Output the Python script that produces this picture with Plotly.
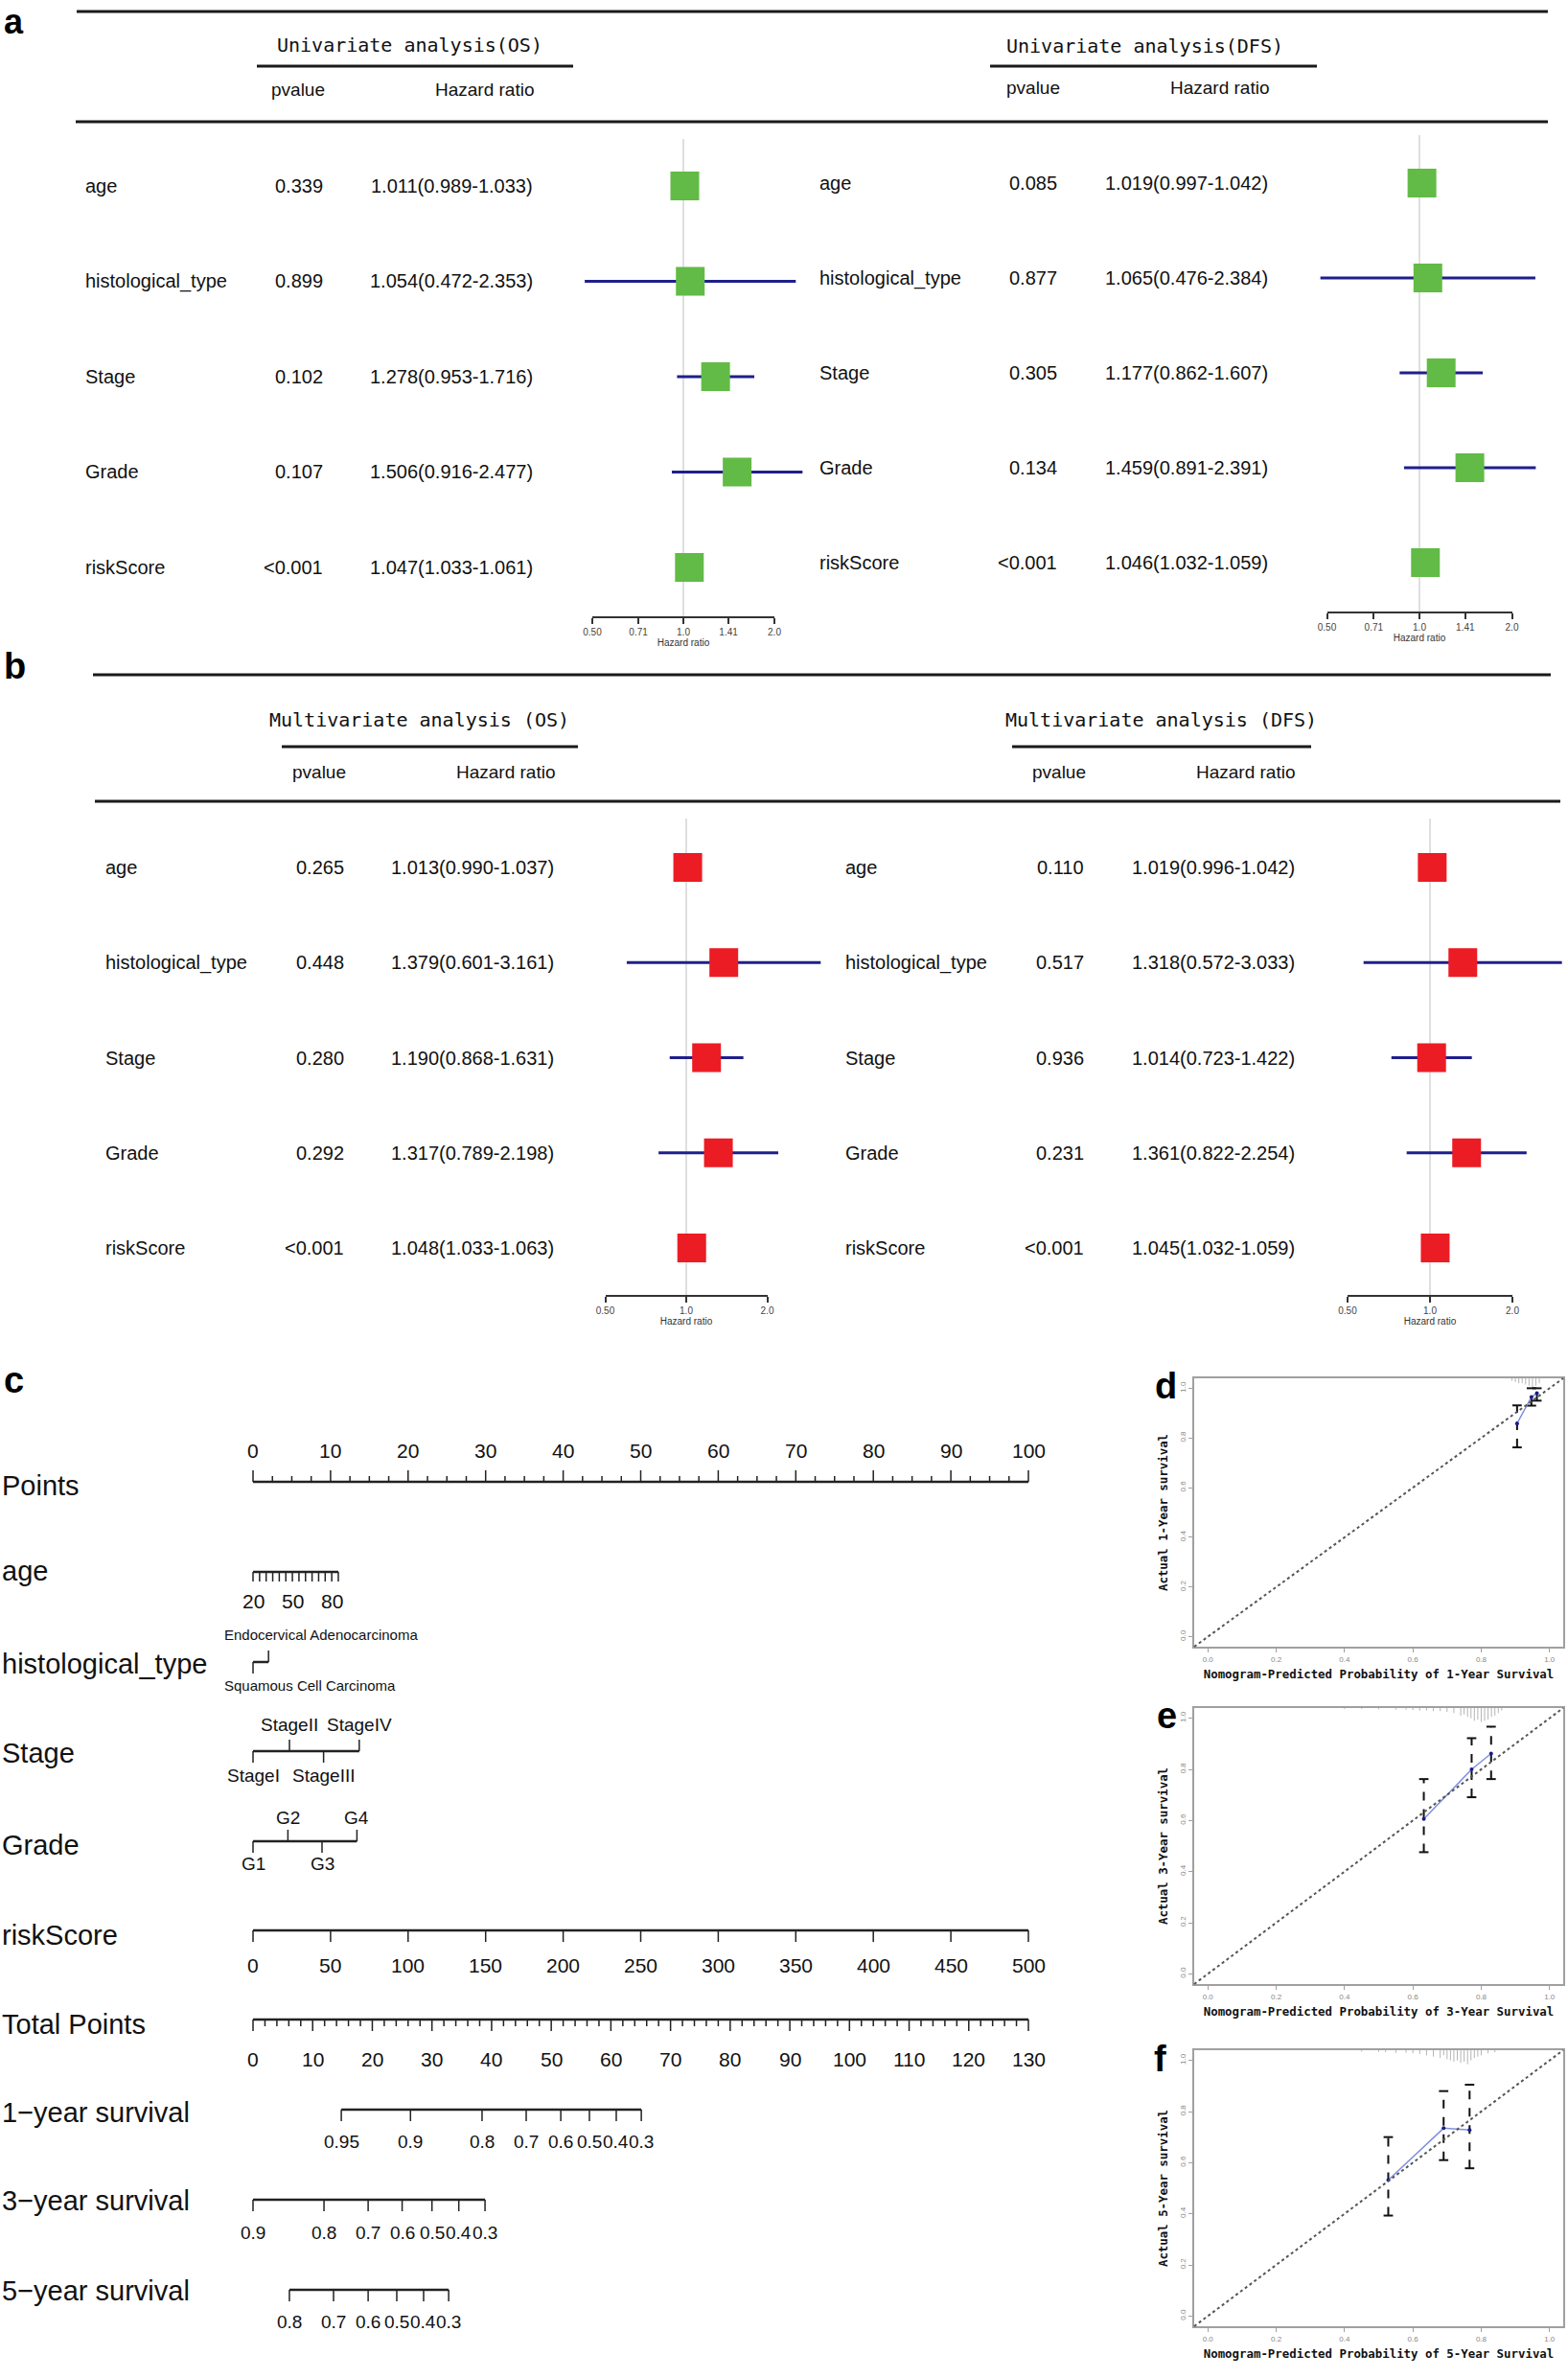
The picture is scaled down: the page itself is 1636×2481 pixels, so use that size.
import numpy as np
import plotly.graph_objects as go

W, H = 1636, 2481
SANS = "Liberation Sans, Arial, sans-serif"
MONO = "DejaVu Sans Mono, Liberation Mono, monospace"

# ---------------- data: forest plots ----------------
variables = ["age", "histological_type", "Stage", "Grade", "riskScore"]

uni_os_p = ["0.339", "0.899", "0.102", "0.107", "<0.001"]
uni_os_hr = [1.011, 1.054, 1.278, 1.506, 1.047]
uni_os_lo = [0.989, 0.472, 0.953, 0.916, 1.033]
uni_os_hi = [1.033, 2.353, 1.716, 2.477, 1.061]

uni_dfs_p = ["0.085", "0.877", "0.305", "0.134", "<0.001"]
uni_dfs_hr = [1.019, 1.065, 1.177, 1.459, 1.046]
uni_dfs_lo = [0.997, 0.476, 0.862, 0.891, 1.032]
uni_dfs_hi = [1.042, 2.384, 1.607, 2.391, 1.059]

multi_os_p = ["0.265", "0.448", "0.280", "0.292", "<0.001"]
multi_os_hr = [1.013, 1.379, 1.190, 1.317, 1.048]
multi_os_lo = [0.990, 0.601, 0.868, 0.789, 1.033]
multi_os_hi = [1.037, 3.161, 1.631, 2.198, 1.063]

multi_dfs_p = ["0.110", "0.517", "0.936", "0.231", "<0.001"]
multi_dfs_hr = [1.019, 1.318, 1.014, 1.361, 1.045]
multi_dfs_lo = [0.996, 0.572, 0.723, 0.822, 1.032]
multi_dfs_hi = [1.042, 3.033, 1.422, 2.254, 1.059]

uni_ticks = [0.50, 0.71, 1.0, 1.41, 2.0]
uni_tick_text = ["0.50", "0.71", "1.0", "1.41", "2.0"]
multi_ticks = [0.50, 1.0, 2.0]
multi_tick_text = ["0.50", "1.0", "2.0"]

# ---------------- data: nomogram ----------------
points_ticks = [0, 10, 20, 30, 40, 50, 60, 70, 80, 90, 100]
age_range = [20, 85]
age_range_points = [0.0, 11.0]
age_tick_vals = [20, 25, 30, 35, 40, 45, 50, 55, 60, 65, 70, 75, 80, 85]
age_label_vals = [20, 50, 80]
hist_levels = ["Squamous Cell Carcinoma", "Endocervical Adenocarcinoma"]
hist_points = [0.0, 2.0]
stage_levels = ["StageI", "StageII", "StageIII", "StageIV"]
stage_points = [0.0, 4.7, 9.1, 13.7]
grade_levels = ["G1", "G2", "G3", "G4"]
grade_points = [0.0, 4.5, 8.9, 13.4]
risk_ticks = [0, 50, 100, 150, 200, 250, 300, 350, 400, 450, 500]
risk_max = 500
total_ticks = [0, 10, 20, 30, 40, 50, 60, 70, 80, 90, 100, 110, 120, 130]
total_max = 130
surv1_labels = ["0.95", "0.9", "0.8", "0.7", "0.6", "0.5", "0.4", "0.3"]
surv1_total = [14.8, 26.4, 38.4, 45.8, 51.6, 56.4, 60.9, 65.1]
surv3_labels = ["0.9", "0.8", "0.7", "0.6", "0.5", "0.4", "0.3"]
surv3_total = [0.0, 11.9, 19.3, 25.0, 30.0, 34.5, 38.9]
surv5_labels = ["0.8", "0.7", "0.6", "0.5", "0.4", "0.3"]
surv5_total = [6.1, 13.5, 19.3, 24.1, 28.6, 32.8]

# ---------------- data: calibration ----------------
cal1_pred = [0.905, 0.947, 0.963]
cal1_obs = [0.858, 0.965, 0.980]
cal1_lo = [0.762, 0.930, 0.950]
cal1_hi = [0.931, 1.000, 1.000]
rug1_x = [0.89, 0.90, 0.91, 0.92, 0.93, 0.94, 0.95, 0.96, 0.97]
rug1_h = [0.010, 0.015, 0.020, 0.020, 0.025, 0.030, 0.035, 0.030, 0.020]

cal3_pred = [0.632, 0.772, 0.829]
cal3_obs = [0.606, 0.800, 0.862]
cal3_lo = [0.476, 0.691, 0.762]
cal3_hi = [0.762, 0.922, 0.967]
rug3_x = [0.40, 0.45, 0.50, 0.55, 0.58, 0.60, 0.62, 0.64, 0.66, 0.68, 0.70, 0.72,
          0.74, 0.75, 0.76, 0.77, 0.78, 0.79, 0.80, 0.81, 0.82, 0.83, 0.84, 0.85, 0.86]
rug3_h = [0.004, 0.004, 0.005, 0.006, 0.006, 0.008, 0.010, 0.010, 0.012, 0.012, 0.015, 0.020,
          0.030, 0.025, 0.035, 0.040, 0.050, 0.045, 0.055, 0.050, 0.045, 0.035, 0.030, 0.020, 0.010]

cal5_pred = [0.528, 0.690, 0.766]
cal5_obs = [0.532, 0.735, 0.728]
cal5_lo = [0.393, 0.610, 0.578]
cal5_hi = [0.700, 0.880, 0.905]
rug5_x = [0.45, 0.50, 0.52, 0.55, 0.58, 0.60, 0.62, 0.64, 0.66, 0.68, 0.69, 0.70,
          0.71, 0.72, 0.73, 0.74, 0.75, 0.76, 0.77, 0.78, 0.79, 0.80, 0.82, 0.84]
rug5_h = [0.005, 0.006, 0.008, 0.010, 0.010, 0.012, 0.015, 0.020, 0.025, 0.030, 0.020, 0.035,
          0.040, 0.045, 0.040, 0.050, 0.045, 0.055, 0.040, 0.030, 0.025, 0.020, 0.012, 0.008]
cal_ticks = [0.0, 0.2, 0.4, 0.6, 0.8, 1.0]
cal_tick_text = ["0.0", "0.2", "0.4", "0.6", "0.8", "1.0"]

# ---------------- helpers ----------------
fig = go.Figure()
axes = {}
annotations = []
shapes = []
_n = [0]


def fx(p):
    return p / W


def fy(p):
    return 1 - p / H


HIDDEN = dict(visible=False, showgrid=False, zeroline=False, fixedrange=True, automargin=False)


def new_axes(xpx, ypx, xkw=None, ykw=None):
    _n[0] += 1
    n = _n[0]
    sfx = "" if n == 1 else str(n)
    xr, yr = "x" + sfx, "y" + sfx
    xa = dict(HIDDEN)
    xa.update(domain=[max(0, fx(xpx[0])), min(1, fx(xpx[1]))], anchor=yr)
    ya = dict(HIDDEN)
    ya.update(domain=[max(0, fy(ypx[1])), min(1, fy(ypx[0]))], anchor=xr)
    if xkw:
        xa.update(xkw)
    if ykw:
        ya.update(ykw)
    axes["xaxis" + sfx] = xa
    axes["yaxis" + sfx] = ya
    return xr, yr


def text(x, y, s, xref="paper", yref="paper", size=19, family=SANS, xanchor="center",
         yanchor="middle", color="#111", **kw):
    annotations.append(dict(x=x, y=y, xref=xref, yref=yref, text=s, showarrow=False,
                            font=dict(size=size, family=family, color=color),
                            xanchor=xanchor, yanchor=yanchor, **kw))


def rule(x0, x1, y, width=3, color="#1a1a1a"):
    shapes.append(dict(type="line", xref="paper", yref="paper", x0=fx(x0), x1=fx(x1),
                       y0=fy(y), y1=fy(y), line=dict(color=color, width=width)))


def forest(cfg, pvals, hr, lo, hi, ticks, tick_text, color):
    c, k = cfg["c"], cfg["k"]
    r0, sp = cfg["r0"], cfg["sp"]
    vtop, ax_y = cfg["vtop"], cfg["axis_y"]
    L, R = c - 1.4 * k, min(c + 1.8 * k, W)
    lg2 = np.log10(2)
    xr, yr = new_axes((L, R), (vtop, ax_y),
                      dict(type="log", range=[(L - c) / k * lg2, (R - c) / k * lg2]),
                      dict(range=[(ax_y - r0) / sp, (vtop - r0) / sp]))
    rows = list(range(len(hr)))
    shapes.append(dict(type="line", xref=xr, yref=yr + " domain", x0=1, x1=1, y0=0, y1=1,
                       line=dict(color="#d4d4d4", width=1.5), layer="below"))
    xs, ys = [], []
    for i in rows:
        xs += [lo[i], hi[i], None]
        ys += [i, i, None]
    fig.add_trace(go.Scatter(x=xs, y=ys, xaxis=xr, yaxis=yr, mode="lines",
                             line=dict(color="#1f1f8c", width=3), hoverinfo="skip",
                             showlegend=False))
    fig.add_trace(go.Scatter(x=hr, y=rows, xaxis=xr, yaxis=yr, mode="markers",
                             marker=dict(symbol="square", size=30, color=color,
                                         line=dict(width=0)),
                             hoverinfo="skip", showlegend=False))
    for i in rows:
        text(fx(cfg["lab_x"]), i, variables[i], yref=yr, xanchor="left", size=20)
        text(fx(cfg["p_x"]), i, pvals[i], yref=yr, xanchor="right", size=20)
        text(fx(cfg["hr_x"]), i, f"{hr[i]:.3f}({lo[i]:.3f}-{hi[i]:.3f})", yref=yr,
             xanchor="right", size=20)
    # displayed hazard-ratio axis
    dx, dy = new_axes((c - k, c + k), (ax_y - 2, ax_y),
                      dict(visible=True, type="log",
                           range=[np.log10(ticks[0]), np.log10(ticks[-1])],
                           tickvals=ticks, ticktext=tick_text, showline=True,
                           linecolor="#333", linewidth=2, ticks="outside", ticklen=6,
                           tickwidth=2, tickcolor="#333",
                           tickfont=dict(size=10, color="#444", family=SANS),
                           title=dict(text="Hazard ratio",
                                      font=dict(size=10, color="#333", family=SANS),
                                      standoff=1),
                           showgrid=False, zeroline=False),
                      dict(range=[0, 1]))
    fig.add_trace(go.Scatter(x=[1], y=[0.5], xaxis=dx, yaxis=dy, mode="markers",
                             marker=dict(opacity=0), hoverinfo="skip", showlegend=False))
    # header
    text(fx(cfg["title_x"]), fy(cfg["title_y"]), cfg["title"], family=MONO, size=20)
    rule(cfg["ul"][0], cfg["ul"][1], cfg["ul_y"])
    text(fx(cfg["ph_x"]), fy(cfg["head_y"]), "pvalue", size=19)
    text(fx(cfg["hh_x"]), fy(cfg["head_y"]), "Hazard ratio", size=19)


GREEN = "#62BB46"
RED = "#EC1C24"

A_OS = dict(c=713, k=95, r0=194, sp=99.5, vtop=145, axis_y=643, lab_x=87, p_x=339, hr_x=558,
            title="Univariate analysis(OS)", title_x=427, title_y=47, ul=(268, 598), ul_y=69,
            ph_x=311, hh_x=506, head_y=94)
A_DFS = dict(c=1481, k=96.5, r0=191, sp=99, vtop=141, axis_y=638, lab_x=853, p_x=1105,
             hr_x=1325, title="Univariate analysis(DFS)", title_x=1194, title_y=48,
             ul=(1033, 1374), ul_y=69, ph_x=1078, hh_x=1273, head_y=92)
B_OS = dict(c=716, k=84.5, r0=905, sp=99.25, vtop=854, axis_y=1351, lab_x=108, p_x=361,
            hr_x=580, title="Multivariate analysis (OS)", title_x=437, title_y=751,
            ul=(294, 603), ul_y=779, ph_x=333, hh_x=528, head_y=805)
B_DFS = dict(c=1492, k=86, r0=905, sp=99.25, vtop=854, axis_y=1351, lab_x=880, p_x=1133,
             hr_x=1353, title="Multivariate analysis (DFS)", title_x=1211, title_y=751,
             ul=(1056, 1368), ul_y=779, ph_x=1105, hh_x=1300, head_y=805)

rule(80, 1615, 12)
rule(79, 1615, 127)
rule(97, 1618, 704)
rule(99, 1628, 836)

forest(A_OS, uni_os_p, uni_os_hr, uni_os_lo, uni_os_hi, uni_ticks, uni_tick_text, GREEN)
forest(A_DFS, uni_dfs_p, uni_dfs_hr, uni_dfs_lo, uni_dfs_hi, uni_ticks, uni_tick_text, GREEN)
forest(B_OS, multi_os_p, multi_os_hr, multi_os_lo, multi_os_hi, multi_ticks, multi_tick_text, RED)
forest(B_DFS, multi_dfs_p, multi_dfs_hr, multi_dfs_lo, multi_dfs_hi, multi_ticks, multi_tick_text, RED)

# ---------------- nomogram ----------------
NX0, NK = 264, 8.09
nx, ny = new_axes((0, W), (1400, H),
                  dict(range=[(0 - NX0) / NK, (W - NX0) / NK]),
                  dict(range=[H, 1400]))

main_x, main_y, tk_x, tk_y = [], [], [], []


def seg(lx, ly, x0, y0, x1, y1):
    lx += [x0, x1, None]
    ly += [y0, y1, None]


def ntext(x, y, s, size=21, family=SANS, xanchor="center"):
    text(x, y, s, xref=nx, yref=ny, size=size, family=family, xanchor=xanchor)


ROWS = [("Points", 1550), ("age", 1639), ("histological_type", 1736), ("Stage", 1829),
        ("Grade", 1925), ("riskScore", 2019), ("Total Points", 2112),
        ("1\u2212year survival", 2204), ("3\u2212year survival", 2296),
        ("5\u2212year survival", 2390)]
for lab, yy in ROWS:
    text(fx(0), yy, lab, yref=ny, size=29, xanchor="left")

# Points scale
yl = 1546
seg(main_x, main_y, points_ticks[0], yl, points_ticks[-1], yl)
for v in points_ticks:
    seg(tk_x, tk_y, v, yl, v, yl - 12)
    ntext(v, 1514, str(v))
for i in range(len(points_ticks) - 1):
    for f in (0.25, 0.5, 0.75):
        v = points_ticks[i] + f * (points_ticks[i + 1] - points_ticks[i])
        seg(tk_x, tk_y, v, yl, v, yl - 6)


def age_pts(a):
    return np.interp(a, age_range, age_range_points)


yl = 1640
seg(main_x, main_y, age_pts(age_range[0]), yl, age_pts(age_range[1]), yl)
for a in age_tick_vals:
    seg(tk_x, tk_y, age_pts(a), yl, age_pts(a), yl + 10)
for a in age_label_vals:
    ntext(age_pts(a), 1671, str(a))

yl = 1734
seg(main_x, main_y, hist_points[0], yl, hist_points[-1], yl)
seg(tk_x, tk_y, hist_points[0], yl, hist_points[0], yl + 12)
seg(tk_x, tk_y, hist_points[1], yl, hist_points[1], yl - 12)
ntext(min(hist_points) - 4.0, 1706, hist_levels[1], size=15, xanchor="left")
ntext(min(hist_points) - 4.0, 1759, hist_levels[0], size=15, xanchor="left")


def cat_scale(levels, pts, yl, y_above, y_below):
    seg(main_x, main_y, pts[0], yl, pts[-1], yl)
    for i, (lv, p) in enumerate(zip(levels, pts)):
        if i % 2 == 0:
            seg(tk_x, tk_y, p, yl, p, yl + 12)
            ntext(p, y_below, lv, size=19)
        else:
            seg(tk_x, tk_y, p, yl, p, yl - 12)
            ntext(p, y_above, lv, size=19)


cat_scale(stage_levels, stage_points, 1827, 1800, 1853)
cat_scale(grade_levels, grade_points, 1921, 1897, 1945)

yl = 2014
seg(main_x, main_y, 0, yl, 100, yl)
for v in risk_ticks:
    p = v / risk_max * 100
    seg(tk_x, tk_y, p, yl, p, yl + 12)
    ntext(p, 2050, str(v))

yl = 2107
seg(main_x, main_y, 0, yl, 100, yl)
for v in total_ticks:
    p = v / total_max * 100
    seg(tk_x, tk_y, p, yl, p, yl + 12)
    ntext(p, 2148, str(v))
for v in range(0, total_max + 1, 2):
    if v % 10:
        p = v / total_max * 100
        seg(tk_x, tk_y, p, yl, p, yl + 7)


def surv_scale(labels, tot, yl, ylab):
    ps = [t / total_max * 100 for t in tot]
    seg(main_x, main_y, ps[0], yl, ps[-1], yl)
    for lab, p in zip(labels, ps):
        seg(tk_x, tk_y, p, yl, p, yl + 12)
        ntext(p, ylab, lab, size=19)


surv_scale(surv1_labels, surv1_total, 2201, 2234)
surv_scale(surv3_labels, surv3_total, 2295, 2329)
surv_scale(surv5_labels, surv5_total, 2389, 2422)

fig.add_trace(go.Scatter(x=main_x, y=main_y, xaxis=nx, yaxis=ny, mode="lines",
                         line=dict(color="#222", width=2.5), hoverinfo="skip", showlegend=False))
fig.add_trace(go.Scatter(x=tk_x, y=tk_y, xaxis=nx, yaxis=ny, mode="lines",
                         line=dict(color="#222", width=1.5), hoverinfo="skip", showlegend=False))

# ---------------- calibration plots ----------------
CAL = [
    dict(top=1438, bottom=1718, pred=cal1_pred, obs=cal1_obs, lo=cal1_lo, hi=cal1_hi,
         rx=rug1_x, rh=rug1_h, year="1"),
    dict(top=1782, bottom=2070, pred=cal3_pred, obs=cal3_obs, lo=cal3_lo, hi=cal3_hi,
         rx=rug3_x, rh=rug3_h, year="3"),
    dict(top=2139, bottom=2427, pred=cal5_pred, obs=cal5_obs, lo=cal5_lo, hi=cal5_hi,
         rx=rug5_x, rh=rug5_h, year="5"),
]


def cal_axis(title, angle=0):
    return dict(visible=True, range=[-0.04, 1.04], showline=True, mirror=True,
                linecolor="#a0a0a0", linewidth=2, ticks="outside", ticklen=4,
                tickcolor="#a0a0a0", tickvals=cal_ticks, ticktext=cal_tick_text,
                tickangle=angle, tickfont=dict(size=8, color="#888", family=SANS),
                title=dict(text=f"<b>{title}</b>",
                           font=dict(family=MONO, size=12.4, color="#111"),
                           standoff=8),
                showgrid=False, zeroline=False, automargin=False)


for cd in CAL:
    cx, cy = new_axes((1246, 1631), (cd["top"], cd["bottom"]),
                      cal_axis(f"Nomogram-Predicted Probability of {cd['year']}-Year Survival"),
                      cal_axis(f"Actual {cd['year']}-Year survival", angle=-90))
    shapes.append(dict(type="line", xref=cx + " domain", yref=cy + " domain", x0=0, y0=0,
                       x1=1, y1=1, line=dict(color="#555", width=2, dash="dot")))
    rx, ry = [], []
    for x, h in zip(cd["rx"], cd["rh"]):
        rx += [x, x, None]
        ry += [1.04, 1.04 - h, None]
    fig.add_trace(go.Scatter(x=rx, y=ry, xaxis=cx, yaxis=cy, mode="lines",
                             line=dict(color="#b5b5b5", width=1), hoverinfo="skip",
                             showlegend=False))
    ex, ey = [], []
    for p, l, h in zip(cd["pred"], cd["lo"], cd["hi"]):
        ex += [p, p, None]
        ey += [l, h, None]
    fig.add_trace(go.Scatter(x=ex, y=ey, xaxis=cx, yaxis=cy, mode="lines",
                             line=dict(color="#111", width=2, dash="dash"), hoverinfo="skip",
                             showlegend=False))
    fig.add_trace(go.Scatter(x=cd["pred"] + cd["pred"], y=cd["lo"] + cd["hi"], xaxis=cx,
                             yaxis=cy, mode="markers",
                             marker=dict(symbol="line-ew", size=7,
                                         line=dict(width=2, color="#111")),
                             hoverinfo="skip", showlegend=False))
    fig.add_trace(go.Scatter(x=cd["pred"], y=cd["obs"], xaxis=cx, yaxis=cy,
                             mode="lines+markers", line=dict(color="#8090dd", width=1.5),
                             marker=dict(size=4, color="#1a1a8c"), hoverinfo="skip",
                             showlegend=False))

# ---------------- panel letters ----------------
text(fx(2), fy(0), "<b>a</b>", size=36, xanchor="left", yanchor="top", color="#000")
for lab, x, y in [("b", 2, 695), ("c", 2, 1440), ("d", 1203, 1446),
                  ("e", 1205, 1790), ("f", 1202, 2148)]:
    text(fx(x), fy(y), f"<b>{lab}</b>", size=38, xanchor="left", color="#000")

fig.update_layout(template="none", width=W, height=H,
                  margin=dict(l=0, r=0, t=0, b=0, pad=0, autoexpand=False),
                  paper_bgcolor="white", plot_bgcolor="rgba(0,0,0,0)",
                  showlegend=False, hovermode=False,
                  annotations=annotations, shapes=shapes, **axes)
fig.write_html("out.html", config={"displayModeBar": False},
               post_script="document.body.style.margin='0';document.body.style.padding='0';"
                           "document.documentElement.style.overflow='hidden';")
